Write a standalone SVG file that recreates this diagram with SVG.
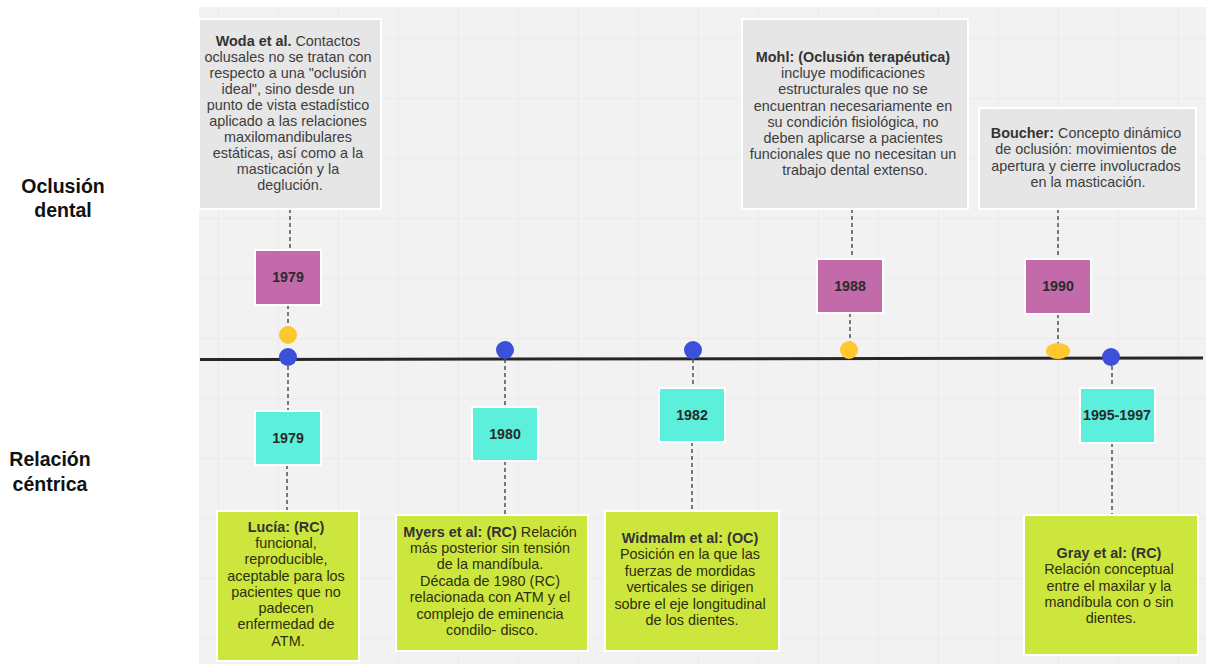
<svg xmlns="http://www.w3.org/2000/svg" width="1210" height="664" viewBox="0 0 1210 664">
  <defs>
    <pattern id="grid" x="218" y="38" width="60" height="60" patternUnits="userSpaceOnUse">
      <path d="M0 0 H60 M0 0 V60" fill="none" stroke="#e4e4e4" stroke-width="1.2"/>
    </pattern>
    <style>
      .note { stroke: #ffffff; stroke-width: 2; }
      .grey { fill: #e6e6e6; }
      .lime { fill: #cde63d; }
      .mag { fill: #c36aab; }
      .cyan { fill: #5cefdc; }
      .txt { font-family: "Liberation Sans", Arial, sans-serif; font-size: 14.4px; fill: #3d3d3d; text-anchor: middle; }
      .dk { fill: #2e2e10; }
      .b { font-weight: bold; fill: #333333; }
      .year { font-family: "Liberation Sans", Arial, sans-serif; font-size: 14.2px; font-weight: bold; fill: #2a2a2a; text-anchor: middle; }
      .side { font-family: "Liberation Sans", Arial, sans-serif; font-size: 19.5px; font-weight: bold; fill: #111111; text-anchor: middle; }
      .dash { stroke: #505050; stroke-width: 1.5; stroke-dasharray: 4 3; fill: none; }
      .yel { fill: #fdc92e; }
      .blu { fill: #3c50d9; }
    </style>
  </defs>

  <!-- canvas -->
  <rect x="0" y="0" width="1210" height="664" fill="#ffffff"/>
  <rect x="199" y="7" width="1007" height="657" fill="#f2f2f2"/>
  <rect x="199" y="7" width="1007" height="657" fill="url(#grid)"/>

  <!-- row labels -->
  <text class="side" x="63" y="193">Oclusión</text>
  <text class="side" x="63" y="217">dental</text>
  <text class="side" x="50" y="466">Relación</text>
  <text class="side" x="50" y="491">céntrica</text>

  <!-- connectors -->
  <g id="connectors">
    <line x1="200" y1="359.5" x2="1203" y2="358" stroke="#262626" stroke-width="3"/>
    <path class="dash" d="M290 209 V250 M288 305 V327 M288 366 V411 M287 465 V511"/>
    <path class="dash" d="M505 359 V407 M505 461 V515"/>
    <path class="dash" d="M693 359 V388 M692 442 V511"/>
    <path class="dash" d="M852 209 V259 M850 313 V342"/>
    <path class="dash" d="M1058 209 V259 M1058 314 V343"/>
    <path class="dash" d="M1112 366 V388 M1112 443 V515"/>
  </g>

  <!-- Woda 1979 -->
  <g id="woda">
    <rect class="note grey" x="199" y="19" width="182" height="190"/>
    <text class="txt" x="290">
      <tspan x="290" y="46"><tspan class="b">Woda et al.</tspan> Contactos</tspan>
      <tspan x="290" y="62">oclusales no se tratan con</tspan>
      <tspan x="290" y="78">respecto a una "oclusión</tspan>
      <tspan x="290" y="94">ideal", sino desde un</tspan>
      <tspan x="290" y="110">punto de vista estadístico</tspan>
      <tspan x="290" y="126">aplicado a las relaciones</tspan>
      <tspan x="290" y="142">maxilomandibulares</tspan>
      <tspan x="290" y="158">estáticas, así como a la</tspan>
      <tspan x="290" y="174">masticación y la</tspan>
      <tspan x="290" y="190">deglución.</tspan>
    </text>
  </g>
  <g id="y1979-top">
    <rect class="note mag" x="255" y="250" width="66" height="55"/>
    <text class="year" x="288" y="282">1979</text>
  </g>
  <circle id="dot1979-oc" class="yel" cx="288" cy="335" r="9"/>
  <circle id="dot1979-rc" class="blu" cx="288" cy="357" r="9"/>
  <g id="y1979-bottom">
    <rect class="note cyan" x="255" y="411" width="66" height="54"/>
    <text class="year" x="288" y="443">1979</text>
  </g>
  <g id="lucia">
    <rect class="note lime" x="217" y="511" width="142" height="150"/>
    <text class="txt dk" x="288">
      <tspan x="288" y="532" class="b">Lucía: (RC)</tspan>
      <tspan x="288" y="548">funcional,</tspan>
      <tspan x="288" y="564">reproducible,</tspan>
      <tspan x="288" y="581">aceptable para los</tspan>
      <tspan x="288" y="597">pacientes que no</tspan>
      <tspan x="288" y="613">padecen</tspan>
      <tspan x="288" y="629">enfermedad de</tspan>
      <tspan x="288" y="646">ATM.</tspan>
    </text>
  </g>

  <!-- 1980 -->
  <circle id="dot1980" class="blu" cx="505" cy="350" r="9"/>
  <g id="y1980">
    <rect class="note cyan" x="472" y="407" width="66" height="54"/>
    <text class="year" x="505" y="439">1980</text>
  </g>
  <g id="myers">
    <rect class="note lime" x="396" y="515" width="192" height="136"/>
    <text class="txt dk" x="492">
      <tspan x="492" y="537"><tspan class="b">Myers et al: (RC)</tspan> Relación</tspan>
      <tspan x="492" y="553">más posterior sin tensión</tspan>
      <tspan x="492" y="569">de la mandíbula.</tspan>
      <tspan x="492" y="586">Década de 1980 (RC)</tspan>
      <tspan x="492" y="602">relacionada con ATM y el</tspan>
      <tspan x="492" y="619">complejo de eminencia</tspan>
      <tspan x="492" y="635">condilo- disco.</tspan>
    </text>
  </g>

  <!-- 1982 -->
  <circle id="dot1982" class="blu" cx="693" cy="350" r="9"/>
  <g id="y1982">
    <rect class="note cyan" x="659" y="388" width="66" height="54"/>
    <text class="year" x="692" y="420">1982</text>
  </g>
  <g id="widmalm">
    <rect class="note lime" x="605" y="511" width="174" height="140"/>
    <text class="txt dk" x="692">
      <tspan x="692" y="543" class="b">Widmalm et al: (OC)</tspan>
      <tspan x="692" y="559">Posición en la que las</tspan>
      <tspan x="692" y="576">fuerzas de mordidas</tspan>
      <tspan x="692" y="592">verticales se dirigen</tspan>
      <tspan x="692" y="609">sobre el eje longitudinal</tspan>
      <tspan x="692" y="625">de los dientes.</tspan>
    </text>
  </g>

  <!-- 1988 Mohl -->
  <g id="mohl">
    <rect class="note grey" x="742" y="19" width="226" height="190"/>
    <text class="txt" x="855">
      <tspan x="855" y="62" class="b">Mohl: (Oclusión terapéutica)</tspan>
      <tspan x="855" y="78">incluye modificaciones</tspan>
      <tspan x="855" y="94">estructurales que no se</tspan>
      <tspan x="855" y="111">encuentran necesariamente en</tspan>
      <tspan x="855" y="127">su condición fisiológica, no</tspan>
      <tspan x="855" y="143">deben aplicarse a pacientes</tspan>
      <tspan x="855" y="159">funcionales que no necesitan un</tspan>
      <tspan x="855" y="175">trabajo dental extenso.</tspan>
    </text>
  </g>
  <g id="y1988">
    <rect class="note mag" x="817" y="259" width="66" height="54"/>
    <text class="year" x="850" y="291">1988</text>
  </g>
  <circle id="dot1988" class="yel" cx="849" cy="350" r="9"/>

  <!-- 1990 Boucher -->
  <g id="boucher">
    <rect class="note grey" x="979" y="108" width="217" height="101"/>
    <text class="txt" x="1088">
      <tspan x="1088" y="138"><tspan class="b">Boucher:</tspan> Concepto dinámico</tspan>
      <tspan x="1088" y="154">de oclusión: movimientos de</tspan>
      <tspan x="1088" y="171">apertura y cierre involucrados</tspan>
      <tspan x="1088" y="187">en la masticación.</tspan>
    </text>
  </g>
  <g id="y1990">
    <rect class="note mag" x="1025" y="259" width="66" height="55"/>
    <text class="year" x="1058" y="291">1990</text>
  </g>
  <ellipse id="dot1990" class="yel" cx="1058" cy="351" rx="12" ry="8"/>

  <!-- 1995-1997 Gray -->
  <circle id="dot1995" class="blu" cx="1111" cy="357" r="9"/>
  <g id="y1995">
    <rect class="note cyan" x="1080" y="388" width="75" height="55"/>
    <text class="year" x="1117" y="420">1995-1997</text>
  </g>
  <g id="gray">
    <rect class="note lime" x="1024" y="515" width="174" height="140"/>
    <text class="txt dk" x="1111">
      <tspan x="1111" y="558" class="b">Gray et al: (RC)</tspan>
      <tspan x="1111" y="574">Relación conceptual</tspan>
      <tspan x="1111" y="591">entre el maxilar y la</tspan>
      <tspan x="1111" y="607">mandíbula con o sin</tspan>
      <tspan x="1111" y="623">dientes.</tspan>
    </text>
  </g>
</svg>
